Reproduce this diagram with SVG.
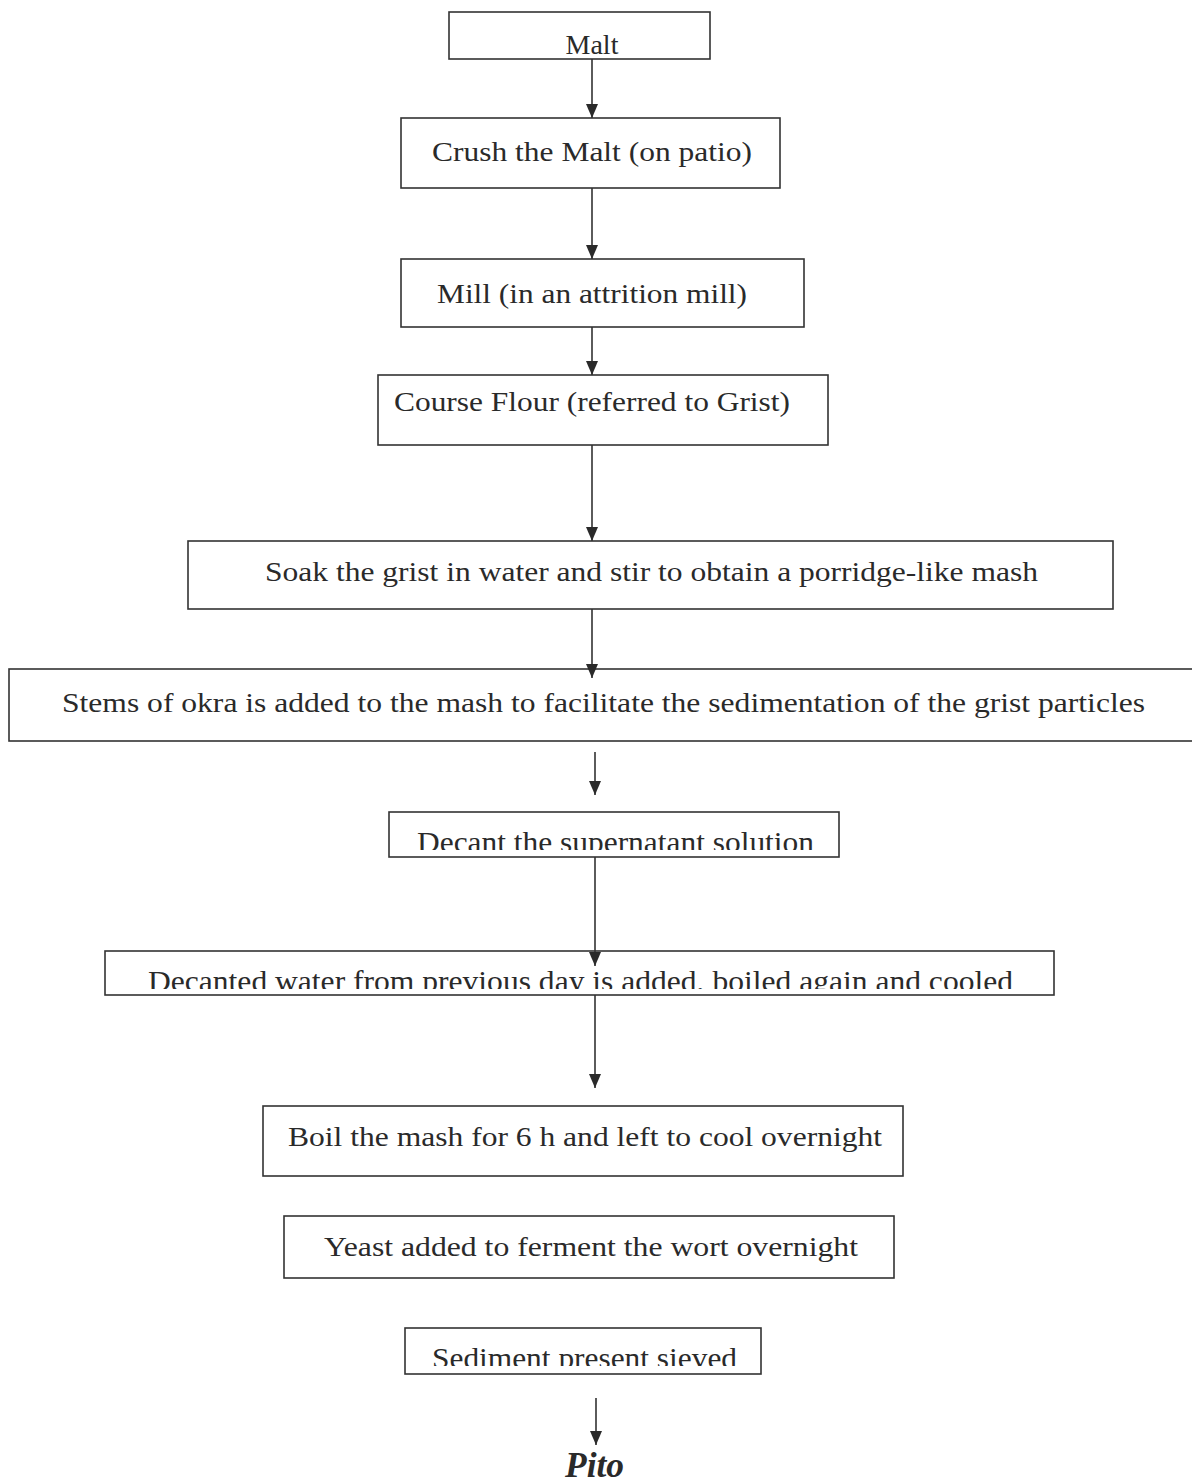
<svg xmlns="http://www.w3.org/2000/svg" width="1192" height="1483" viewBox="0 0 1192 1483">
<style>
.box{fill:#fff;stroke:#333;stroke-width:1.6}
.t{font-family:"Liberation Serif","Times New Roman",serif;font-size:28px;fill:#2a2a2a}
.tc{font-size:30px}
.c{stroke:#333;stroke-width:1.6;fill:none}
</style>
<defs>
<marker id="ah" viewBox="0 0 14 12" refX="14" refY="6" markerWidth="14" markerHeight="12" markerUnits="userSpaceOnUse" orient="auto">
<path d="M0,0 L14,6 L0,12 Z" fill="#2a2a2a"/>
</marker>
<clipPath id="cl1"><rect x="389" y="812" width="450" height="38"/></clipPath>
<clipPath id="cl2"><rect x="105" y="951" width="949" height="38"/></clipPath>
<clipPath id="cl3"><rect x="405" y="1328" width="356" height="38"/></clipPath>
</defs>
<rect width="1192" height="1483" fill="#fff"/>
<g id="n1"><rect class="box" x="449" y="12" width="261" height="47"/><text class="t" x="592" y="54" text-anchor="middle">Malt</text></g>
<g id="n2"><rect class="box" x="401" y="118" width="379" height="70"/><text class="t" x="432" y="161" textLength="320" lengthAdjust="spacingAndGlyphs">Crush the Malt (on patio)</text></g>
<g id="n3"><rect class="box" x="401" y="259" width="403" height="68"/><text class="t" x="437" y="303" textLength="310" lengthAdjust="spacingAndGlyphs">Mill (in an attrition mill)</text></g>
<g id="n4"><rect class="box" x="378" y="375" width="450" height="70"/><text class="t" x="394" y="411" textLength="396" lengthAdjust="spacingAndGlyphs">Course Flour (referred to Grist)</text></g>
<g id="n5"><rect class="box" x="188" y="541" width="925" height="68"/><text class="t" x="265" y="581" textLength="773" lengthAdjust="spacingAndGlyphs">Soak the grist in water and stir to obtain a porridge-like mash</text></g>
<g id="n6"><rect class="box" x="9" y="669" width="1195" height="72"/><text class="t" x="62" y="712" textLength="1083" lengthAdjust="spacingAndGlyphs">Stems of okra is added to the mash to facilitate the sedimentation of the grist particles</text></g>
<g id="n7"><rect class="box" x="389" y="812" width="450" height="45"/><text class="t tc" x="417" y="852" textLength="397" lengthAdjust="spacingAndGlyphs" clip-path="url(#cl1)">Decant the supernatant solution</text></g>
<g id="n8"><rect class="box" x="105" y="951" width="949" height="44"/><text class="t tc" x="148" y="991" textLength="865" lengthAdjust="spacingAndGlyphs" clip-path="url(#cl2)">Decanted water from previous day is added, boiled again and cooled</text></g>
<g id="n9"><rect class="box" x="263" y="1106" width="640" height="70"/><text class="t" x="288" y="1146" textLength="594" lengthAdjust="spacingAndGlyphs">Boil the mash for 6 h and left to cool overnight</text></g>
<g id="n10"><rect class="box" x="284" y="1216" width="610" height="62"/><text class="t" x="324" y="1256" textLength="534" lengthAdjust="spacingAndGlyphs">Yeast added to ferment the wort overnight</text></g>
<g id="n11"><rect class="box" x="405" y="1328" width="356" height="46"/><text class="t tc" x="432" y="1368" textLength="305" lengthAdjust="spacingAndGlyphs" clip-path="url(#cl3)">Sediment present sieved</text></g>
<g id="n12"><text class="t" x="565" y="1477" textLength="59" lengthAdjust="spacingAndGlyphs" style="font-size:35px;font-weight:bold;font-style:italic">Pito</text></g>
<g id="connectors">
<line class="c" x1="592" y1="59" x2="592" y2="118" marker-end="url(#ah)"/>
<line class="c" x1="592" y1="188" x2="592" y2="259" marker-end="url(#ah)"/>
<line class="c" x1="592" y1="327" x2="592" y2="375" marker-end="url(#ah)"/>
<line class="c" x1="592" y1="445" x2="592" y2="541" marker-end="url(#ah)"/>
<line class="c" x1="592" y1="609" x2="592" y2="678" marker-end="url(#ah)"/>
<line class="c" x1="595" y1="752" x2="595" y2="795" marker-end="url(#ah)"/>
<line class="c" x1="595" y1="857" x2="595" y2="966" marker-end="url(#ah)"/>
<line class="c" x1="595" y1="995" x2="595" y2="1088" marker-end="url(#ah)"/>
<line class="c" x1="596" y1="1398" x2="596" y2="1445" marker-end="url(#ah)"/>
</g>
</svg>
